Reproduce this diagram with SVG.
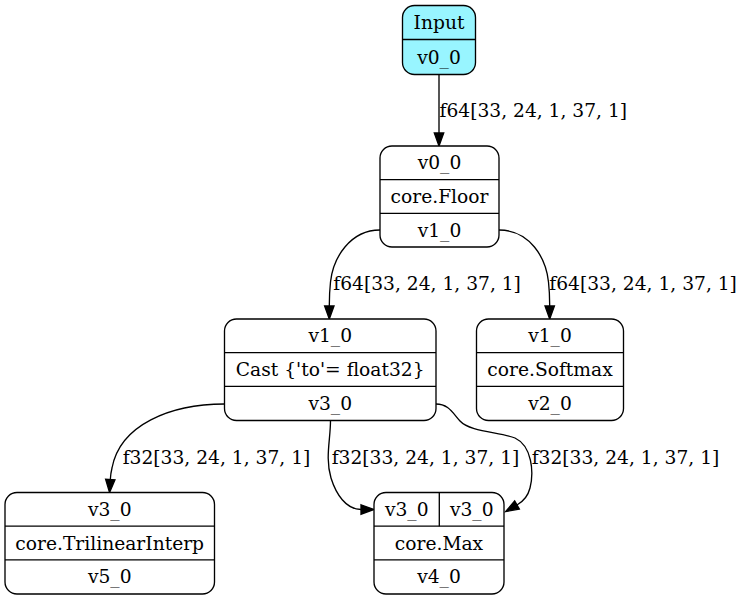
<svg xmlns="http://www.w3.org/2000/svg" width="743" height="601" viewBox="0 0 743 601">
<style>
text{font-family:"DejaVu Serif","Liberation Serif",serif;font-size:18.67px;fill:#000;text-anchor:middle}
text.lbl{text-anchor:start}
.box{fill:#fff;stroke:#000;stroke-width:1.33}
.in{fill:#98f5ff}
.div{stroke:#000;stroke-width:1.33;fill:none}
.edge{fill:none;stroke:#000;stroke-width:1.33;marker-end:url(#arr)}
</style>
<defs>
<marker id="arr" markerWidth="14" markerHeight="10" refX="0" refY="5" orient="auto" markerUnits="userSpaceOnUse" overflow="visible">
<path d="M0,0.3 L13,5 L0,9.7 z" fill="#000" stroke="#000" stroke-width="1.33"/>
</marker>
</defs>
<rect width="743" height="601" fill="#fff"/>
<g id="connectors">
<path class="edge" d="M439,74.5 L439,133"/>
<path class="edge" d="M380,230 C350,230 333,258 330.5,282 C329.5,291 329.3,298 329.3,306"/>
<path class="edge" d="M499,230 C530,230 546,258 548.5,282 C549.5,291 549.7,298 549.7,306"/>
<path class="edge" d="M224.5,404 C170,404 120,425 112,468 C111,472 110.5,476 110.3,479.5"/>
<path class="edge" d="M330.5,420.5 C330.5,440 325,458 331,478 C336,494 346,509.5 361,509.5"/>
<path class="edge" d="M436,404 C448,404 452,412 460,421 C470,432 500,432 515,438 C532,446 534,472 530,488 C528,496 524,501 517,505"/>
<text class="lbl" x="439.5" y="116.7">f64[33, 24, 1, 37, 1]</text>
<text class="lbl" x="333.3" y="290">f64[33, 24, 1, 37, 1]</text>
<text class="lbl" x="549.3" y="290">f64[33, 24, 1, 37, 1]</text>
<text class="lbl" x="122.7" y="463.5">f32[33, 24, 1, 37, 1]</text>
<text class="lbl" x="331.7" y="463.5">f32[33, 24, 1, 37, 1]</text>
<text class="lbl" x="531.7" y="463.5">f32[33, 24, 1, 37, 1]</text>
</g>
<g id="input">
<rect class="box in" x="402.5" y="5.5" width="73" height="69" rx="12"/>
<line class="div" x1="402.5" y1="39.5" x2="475.5" y2="39.5"/>
<text x="439" y="29.2">Input</text>
<text x="439" y="63.5">v0_0</text>
</g>
<g id="floor">
<rect class="box" x="380" y="146" width="119" height="101" rx="12"/>
<line class="div" x1="380" y1="179.7" x2="499" y2="179.7"/>
<line class="div" x1="380" y1="213.3" x2="499" y2="213.3"/>
<text x="439.5" y="169.3">v0_0</text>
<text x="439.5" y="203">core.Floor</text>
<text x="439.5" y="236.7">v1_0</text>
</g>
<g id="cast">
<rect class="box" x="224.5" y="319" width="211.5" height="101.5" rx="12"/>
<line class="div" x1="224.5" y1="352.7" x2="436" y2="352.7"/>
<line class="div" x1="224.5" y1="386.3" x2="436" y2="386.3"/>
<text x="330.2" y="342.3">v1_0</text>
<text x="330.2" y="376">Cast {'to'= float32}</text>
<text x="330.2" y="409.7">v3_0</text>
</g>
<g id="softmax">
<rect class="box" x="476.5" y="319" width="147" height="101.5" rx="12"/>
<line class="div" x1="476.5" y1="352.7" x2="623.5" y2="352.7"/>
<line class="div" x1="476.5" y1="386.3" x2="623.5" y2="386.3"/>
<text x="550" y="342.3">v1_0</text>
<text x="550" y="376">core.Softmax</text>
<text x="550" y="409.7">v2_0</text>
</g>
<g id="trilinear">
<rect class="box" x="5" y="492.5" width="209.5" height="101.5" rx="12"/>
<line class="div" x1="5" y1="526.2" x2="214.5" y2="526.2"/>
<line class="div" x1="5" y1="559.8" x2="214.5" y2="559.8"/>
<text x="109.7" y="515.7">v3_0</text>
<text x="109.7" y="549.5">core.TrilinearInterp</text>
<text x="109.7" y="583.3">v5_0</text>
</g>
<g id="max">
<rect class="box" x="374" y="492.5" width="130" height="101.5" rx="12"/>
<line class="div" x1="374" y1="526.2" x2="504" y2="526.2"/>
<line class="div" x1="374" y1="559.8" x2="504" y2="559.8"/>
<line class="div" x1="439.3" y1="492.5" x2="439.3" y2="526.2"/>
<text x="406.7" y="515.7">v3_0</text>
<text x="471.7" y="515.7">v3_0</text>
<text x="439" y="549.5">core.Max</text>
<text x="439" y="583.3">v4_0</text>
</g>
</svg>
